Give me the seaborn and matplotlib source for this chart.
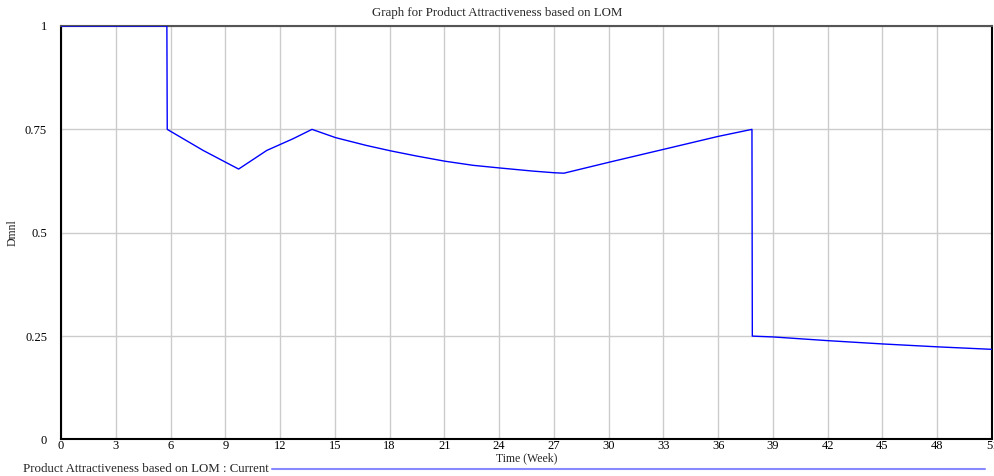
import matplotlib
matplotlib.use("Agg")
import matplotlib.pyplot as plt
import seaborn as sns
import pandas as pd
from matplotlib.lines import Line2D

# Data
time_week = [0, 5.80, 5.82, 7.79, 9.73, 11.27, 12.72, 13.75, 15.04, 16.74, 18.06,
             19.48, 21.03, 22.58, 24.04, 25.87, 27.05, 27.55, 30.07, 33.04, 36.0,
             37.85, 37.87, 39.01, 42.02, 45.03, 48.04, 51.0]
attractiveness = [1.0, 1.0, 0.75, 0.699, 0.654, 0.699, 0.7275, 0.75, 0.730, 0.711, 0.698,
                  0.6855, 0.673, 0.663, 0.6566, 0.649, 0.645, 0.644, 0.671, 0.702, 0.733,
                  0.75, 0.25, 0.248, 0.239, 0.231, 0.224, 0.218]
x_ticks = list(range(0, 52, 3))
y_ticks = [0, 0.25, 0.5, 0.75, 1]
y_tick_labels = ["0", "0.25", "0.5", "0.75", "1"]
title = "Graph for Product Attractiveness based on LOM"
series_label = "Product Attractiveness based on LOM : Current"

df = pd.DataFrame({"Time": time_week, "Value": attractiveness})

sns.set_style("white")
plt.rcParams["font.family"] = ["Liberation Serif", "DejaVu Serif"]

fig = plt.figure(figsize=(9.95, 4.76), dpi=100)
ax = fig.add_axes([0.0613, 0.0767, 0.9357, 0.8687])

sns.lineplot(data=df, x="Time", y="Value", estimator=None, sort=False,
             color="#0000ff", linewidth=1.0, ax=ax, zorder=3)

ax.set_xlim(0, 51)
ax.set_ylim(0, 1)
ax.set_xticks(x_ticks)
ax.set_xticklabels([str(t) for t in x_ticks])
ax.set_yticks(y_ticks)
ax.set_yticklabels(y_tick_labels)
ax.grid(True, color="#cccccc", linewidth=1.0)
ax.set_axisbelow(True)
ax.tick_params(axis="both", length=0, labelsize=9, colors="black")
ax.tick_params(axis="x", pad=0.5)
ax.tick_params(axis="y", pad=10)

for side in ["left", "bottom", "right"]:
    ax.spines[side].set_color("black")
    ax.spines[side].set_linewidth(1.5)
ax.spines["top"].set_color("#555555")
ax.spines["top"].set_linewidth(1.5)

ax.set_xlabel("Time (Week)", fontsize=8.5)
ax.xaxis.set_label_coords(0.5, -0.031)
ax.set_ylabel("Dmnl", fontsize=8.5)
ax.yaxis.set_label_coords(-0.046, 0.5)

fig.text(0.4995, 0.973, title, fontsize=9.3, ha="center", va="center")

fig.text(0.023, 0.0137, series_label, fontsize=9.3, ha="left", va="center")
fig.add_artist(Line2D([0.273, 0.99], [0.0137, 0.0137], transform=fig.transFigure,
                      color="#8888ff", linewidth=1.5))

fig.savefig("out.png", dpi=100)
